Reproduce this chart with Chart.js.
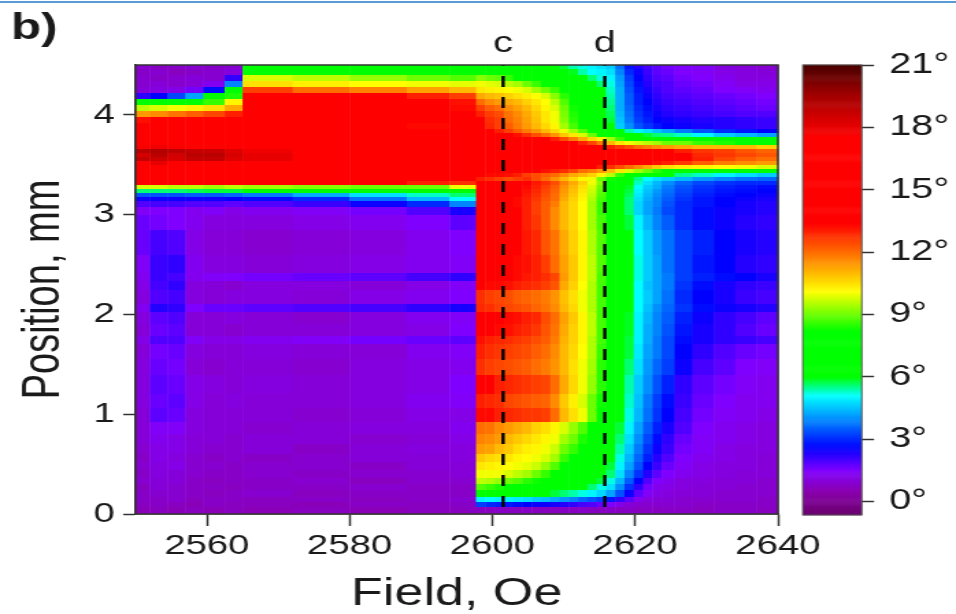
<!DOCTYPE html>
<html>
<head>
<meta charset="utf-8">
<script src="https://cdn.jsdelivr.net/npm/chart.js@4"></script>
<style>
  html, body { margin: 0; padding: 0; background: #fff; overflow: hidden; }
  #topLine { position: absolute; left: 0; top: 1px; width: 956px; height: 2px; background: #5b9bd5; }
  /* the reference is a soft picture stretched sideways, so the whole drawing is too */
  #wrap { position: absolute; left: 0; top: 0; width: 698px; height: 614px; transform: scaleX(1.3696); transform-origin: 0 0; filter: blur(0.45px); }
  #heat { position: absolute; left: 0; top: 0; }
  #bar { position: absolute; left: 576px; top: 0; }
</style>
</head>
<body>
<div id="topLine"></div>
<div id="wrap">
  <canvas id="heat" width="698" height="614"></canvas>
  <canvas id="bar" width="122" height="614"></canvas>
</div>
<script>
const xTicks = [2560, 2580, 2600, 2620, 2640];
const yTicks = [0, 1, 2, 3, 4];
const barTicks = [0, 3, 6, 9, 12, 15, 18, 21];
const cutLabels = ['c', 'd'];
const cutFields = [2601.5, 2615.75];

// column edges, Oe
const fieldEdges = [2550, 2552, 2554.5, 2557, 2559.5, 2562.5, 2565, 2572, 2580, 2588, 2594, 2597.7,
  2599, 2600.3, 2601.6, 2602.9, 2604.2, 2605.5, 2606.8, 2608.1, 2609.4, 2610.7, 2612, 2613.3, 2614.6,
  2615.9, 2617.2, 2618.5, 2619.8, 2621.1, 2622.4, 2623.7, 2625.5, 2628, 2631, 2634, 2637, 2640];

// row edges, mm
const positionEdges = [0, .07, .12, .17, .24, .3, .36, .44, .52, .6, .7, .8, .92, 1.06, 1.2, 1.39, 1.55, 1.7, 1.78,
  1.9, 2.02, 2.1, 2.25, 2.34, 2.42, 2.6, 2.85, 3, 3.08, 3.14, 3.18, 3.22, 3.26, 3.3, 3.34, 3.38, 3.42, 3.46, 3.5,
  3.54, 3.58, 3.62, 3.66, 3.7, 3.74, 3.78, 3.82, 3.86, 3.92, 3.98, 4.04, 4.1, 4.16, 4.22, 4.28, 4.34, 4.4, 4.46, 4.5];

// angle in degrees, bottom row first
const angleRows = [
  [.6,.7,.6,.7,.6,.7,.6,.7,.6,.7,.7, .7,.7,.8,.7,.7,.8,.7,.7,.7,.8,.7,.8,.7,.7,.8,.7,.8,.7,.8,.7,.8,.8,.7,.8,.8,.7],
  [.7,.8,.7,.6,.8,.7,.7,.6,.8,.7,.8, 3.2,3,2.9,2.8,2.7,2.6,2.5,2.5,2.4,2.3,2.2,2,1.9,1.7,1.5,1.2,1,.9,.9,.9,.9,.9,.8,.8,.8,.8],
  [.8,.8,.9,.7,.8,.8,.7,.8,.7,.8,.9, 5,5.1,5,5,4.9,4.8,4.6,4.5,4.3,4.1,3.9,3.6,3.4,3.2,2.8,2.2,1.8,1.3,1.1,1,1,.9,.9,.9,.9,.8],
  [.8,.9,.9,.8,.7,.8,.9,.7,.8,.8,.8, 7,7,6.8,6.6,6.5,6.4,6.2,6,5.8,5.6,5.4,5.2,5,4.7,4.2,3.4,2.5,1.8,1.4,1.2,1.1,1,1,.9,.9,.9],
  [.7,1,.9,.8,.8,.7,.8,.8,.9,.8,.8, 8.8,8.6,8.4,8,7.8,7.5,7.2,7,6.8,6.5,6.3,6,5.6,5.2,4.8,4,3.1,2.2,1.6,1.3,1.2,1.1,1,1,.9,.9],
  [.9,1,1,.8,.7,.8,.8,.9,.7,.9,.9, 9.6,9.5,9.3,9,8.8,8.5,8.3,8,7.6,7.2,7,6.6,6.2,5.8,5.2,4.4,3.5,2.6,1.9,1.5,1.3,1.1,1.1,1,1,.9],
  [.8,1.1,1,.9,.8,.8,.9,.8,.9,.9,1, 10,10,10,9.8,9.6,9.4,9,8.6,8.2,7.6,7.2,7,6.6,6.2,5.6,4.8,3.9,3.1,2.3,1.8,1.5,1.3,1.2,1.1,1,1],
  [.9,1.1,1.2,.9,.9,.8,.9,.9,.8,1,1, 10.4,10.3,10.2,10.1,10,9.9,9.7,9.3,8.8,8.2,7.6,7.2,7,6.5,5.8,5,4.2,3.4,2.6,2.1,1.7,1.4,1.2,1.1,1.1,1],
  [.8,1.2,1.1,.9,.8,.9,.8,.9,1,1,1.1, 10.8,10.6,10.5,10.4,10.2,10.1,10,9.8,9.4,8.6,8,7.5,7.2,6.8,6,5.2,4.4,3.6,2.9,2.3,1.9,1.5,1.3,1.2,1.1,1],
  [.9,1.2,1.2,1,.9,.9,1,.8,1,1.1,1.1, 11.4,11.3,11,10.8,10.5,10.3,10.2,10,9.7,9,8.6,8,7.4,7,6.2,5.4,4.6,3.8,3.1,2.5,2.1,1.6,1.4,1.2,1.1,1.1],
  [1,1.3,1.2,1,1,.9,1,1,.9,1,1.2, 11.7,11.6,11.4,11,10.8,10.6,10.4,10.2,10,9.4,9,8.4,7.8,7.2,6.4,5.6,4.8,4,3.3,2.7,2.2,1.7,1.4,1.3,1.2,1.1],
  [1,1.4,1.4,1.1,1,1,.9,1,1.1,1.1,1.3, 12,11.9,11.6,11.4,11.2,11,10.7,10.5,10.2,9.8,9.3,8.8,8,7.3,6.6,5.8,5,4.2,3.5,2.9,2.4,1.9,1.5,1.3,1.2,1.1],
  [1,1.8,1.7,1.1,1,1,1,.9,1,1.2,1.2, 13.3,13.3,13,12.9,12.8,12.7,12.7,12.6,12,11,10.5,10,9,8,7,6.1,5.2,4.4,3.7,3.1,2.6,2,1.6,1.4,1.3,1.2],
  [1.1,1.7,1.8,1.2,1,1.1,1,1,1.1,1.3,1.4, 13,12.9,12.8,12.5,12.4,12.3,12.2,12.1,11.6,10.8,10.3,9.8,9,8.3,7.2,6.3,5.3,4.5,3.8,3.2,2.7,2.1,1.7,1.5,1.3,1.3],
  [1.1,1.8,1.7,1.2,1.1,1,1.1,1,1.1,1.2,1.5, 13.4,13.5,13,12.9,12.8,12.7,12.6,12.5,12,11.2,10.6,10,9.3,8.5,7.3,6.5,5.4,4.6,4,3.4,2.9,2.2,1.8,1.6,1.4,1.3],
  [1.1,1.7,1.6,1,.9,1,1,.9,1.1,1.2,1.3, 12.8,12.6,12.5,12.4,12.3,12.2,12,11.8,11.5,11,10.5,10,9.4,8.5,7.4,6.6,5.6,4.8,4.1,3.6,3.2,2.5,2,1.8,1.5,1.4],
  [1,1.6,1.7,1.1,1,1,1.1,1,1,1.3,1.4, 13,12.8,12.7,12.6,12.5,12.4,12.2,12,11.6,11,10.6,10.1,9.5,8.6,7.5,6.7,5.8,4.9,4.2,3.8,3.3,2.6,2.2,1.9,1.7,1.6],
  [1.2,1.9,1.9,1.4,1.2,1.2,1.3,1.4,1.6,1.7,1.8, 13.2,13,12.9,12.8,12.7,12.6,12.4,12.2,11.8,11.1,10.7,10.2,9.5,8.7,7.6,6.8,5.8,5,4.3,3.8,3.3,2.7,2.4,2.2,2.1,2],
  [1,1.7,1.8,1,1,.9,1,1,1.1,1.2,1.5, 13.5,13.4,13.3,13.2,13,12.9,12.7,12.3,11.9,11.2,10.7,10.2,9.6,8.7,7.6,6.8,5.9,5,4.3,3.9,3.4,2.8,2.4,2.2,1.9,1.7],
  [1.1,1.8,1.9,1,1,1.1,1,.9,1.1,1.3,1.4, 13.7,13.6,13.5,13.3,13.2,13,12.9,12.4,12,11.3,10.8,10.2,9.6,8.7,7.6,6.9,5.9,5,4.4,3.9,3.5,2.9,2.5,2.2,2,1.8],
  [1.3,2.3,2.2,1.5,1.7,1.7,1.8,1.9,2,2.2,2.4, 12.9,12.8,12.6,12.5,12.4,12.3,12.1,11.9,11.6,11,10.6,10,9.5,8.7,7.6,6.9,6,5.1,4.5,4,3.6,3.1,2.7,2.5,2.4,2.3],
  [1.1,1.9,2,1.1,1,1.1,1.1,1,1.2,1.3,1.5, 12.8,12.6,12.5,12.4,12.2,12.1,12,11.8,11.5,10.9,10.5,10,9.5,8.7,7.6,6.9,6,5.1,4.6,4.2,3.7,3,2.6,2.4,2.1,2],
  [1.2,2,2.2,1.1,1,.9,1.1,1.1,1,1.2,1.4, 13.4,13.3,13.3,13.2,13,12.9,12.8,12.6,12.3,11.2,10.7,10.1,9.5,8.7,7.6,6.9,6,5.1,4.5,4.2,3.8,3.1,2.7,2.4,2.2,2.1],
  [1.3,2.1,2,1.3,1.4,1.5,1.6,1.7,1.8,2,2.2, 13.6,13.5,13.5,13.4,13.3,13.1,13,12.8,12.5,11.4,10.8,10.2,9.6,8.7,7.6,7,6,5.2,4.6,4.2,3.8,3.2,2.9,2.7,2.6,2.4],
  [1.4,2.1,2.2,1.3,1.1,1.1,1,1.1,1.2,1.3,1.4, 13.8,13.6,13.6,13.4,13.3,13.2,13,12.6,12,11.3,10.8,10.2,9.6,8.8,7.5,7,6,5.2,4.6,4.2,3.7,3.2,2.8,2.6,2.3,2.2],
  [1.7,2,1.9,1.2,1,1,.9,1,1.1,1.3,1.5, 13.8,13.7,13.6,13.5,13.4,13.1,12.9,12.3,11.9,11.2,10.7,10.2,9.5,8.8,7.4,6.9,6,5.1,4.6,4.1,3.7,3.2,2.9,2.6,2.4,2.3],
  [1.7,1.6,1.5,1.3,1.1,1.1,1.1,1.2,1.3,1.5,1.8, 13.8,13.8,13.7,13.6,13.4,13,12.7,12.2,11.6,11,10.6,10.1,9.4,8.7,7.2,6.8,5.8,5,4.4,3.9,3.5,3,2.7,2.5,2.3,2.2],
  [1.4,1.5,1.5,1.3,1.4,1.2,1.3,1.4,1.6,1.9,2.4, 13.8,13.8,13.7,13.6,13.4,13,12.6,12.2,11.6,11,10.6,10.1,9.4,8.6,7.2,6.6,5.6,4.7,4.2,3.8,3.3,3,2.7,2.5,2.4,2.3],
  [1.9,2,2,1.9,1.9,1.8,1.9,2.1,2.5,3,3.9, 13.8,13.8,13.6,13.5,13.3,13,12.6,12.2,11.8,11,10.6,10.1,9.4,8.6,7.3,6.6,5.6,4.7,4.2,3.9,3.4,3,2.8,2.6,2.4,2.3],
  [2.5,2.5,2.5,2.5,2.5,2.6,2.7,3,3.7,4.4,5.1, 13.8,13.8,13.6,13.5,13.3,13,12.7,12.3,12,11.2,10.7,10.2,9.5,8.7,7.4,6.7,5.6,4.8,4.3,3.9,3.5,3.1,2.8,2.6,2.5,2.4],
  [3.4,3.4,3.4,3.5,3.5,3.6,3.8,4.3,4.8,5.3,5.6, 13.8,13.8,13.7,13.5,13.4,13.1,12.8,12.4,12,11.3,10.8,10.3,9.6,8.8,7.5,6.8,5.7,4.9,4.4,4,3.6,3.2,2.9,2.7,2.6,2.5],
  [5.6,5.6,5.6,5.7,5.8,5.8,6,6.2,6.4,7,7.2, 13.8,13.8,13.7,13.6,13.4,13.2,12.9,12.5,12.1,11.4,10.9,10.4,9.7,8.9,7.6,6.9,5.8,5,4.5,4.1,3.7,3.3,3,2.8,2.7,2.6],
  [9.8,9.8,9.6,9.6,9.4,9.6,9.4,9.2,9,9,10, 13.8,13.8,13.7,13.6,13.5,13.3,13,12.6,12.2,11.5,11,10.5,9.8,9,7.8,7,5.9,5.1,4.6,4.3,3.8,3.4,3.1,2.9,2.8,2.7],
  [14,14,14,14,14,14,13.8,13.6,13.4,13,12.8, 13.8,13.8,13.7,13.6,13.5,13.4,13.1,12.8,12.4,11.7,11.2,10.7,10,9.2,7.9,7.2,6,5.3,4.8,4.4,4,3.6,3.3,3.1,3,3],
  [15,15,15,15,15,15,15,14.6,14.4,14,13.6, 13,12.8,12.6,12.4,12.6,12.8,12.4,12,11.5,11,10.6,10.2,10,9,8.3,7.3,6,5.5,5.1,4.8,4.6,4.4,4.1,3.9,3.7,3.6],
  [15.5,15.5,15.5,15.5,15.5,15.5,15.5,15.5,15.5,15,14.5, 13.4,13.3,13.3,13.2,13,12.6,12.4,12.2,12,11.6,11.2,11,10.7,10.2,9.6,8.6,7.4,7,6.8,6.4,6,5.5,5.3,5,4.8,4.6],
  [16,16,16,16,16,16,15.5,15,15,15,15, 13.5,13.5,13.5,13.5,13.5,13.5,13.4,13.2,13,12.8,12.5,12,11.8,11.4,11,10.4,9.8,9.4,9,8.5,8,7.5,7.2,7,7,7],
  [17,17,17,16.5,16.5,16.5,16,15.5,15,15,15, 14,14,14,14,14,14,14,14,14,14,13.6,13.5,13.4,13,12.8,12.4,12,11.6,11.2,10.8,10.5,10.3,10.2,10.1,10,9.8],
  [17.5,18,17.5,17.5,17,17,16.5,16,15.5,15,15, 15,15,15,15,15,15,15,15,15,15,15,15,15,15,15,14,13.8,13.5,13.4,13.2,13,12.7,12.2,11.8,11.6,11.4],
  [18.8,18.6,18.4,18.8,18.8,18.2,18,17.2,16,15.5,15, 15,15,15,15,15,15,15,15,15,15,15,15,15,15,15,15,14.5,14.5,14,14,13.8,13.5,13,12.5,12.2,12],
  [18.4,19,18.5,19,19,18.4,18,17.4,16.5,16,15.5, 15,15,15,15,15,15,15,15,15,15,15,15,15,15,15,15,14.5,14.5,14.2,14,14,13.4,12.9,12.7,12.5,12.3],
  [19,19.2,19,18.8,18.7,18.2,17.8,17.2,16.5,16,15.5, 15,15,15,15,15,15,15,15,15,15,15,15,15,15,15,14.5,14,14,13.8,13.6,13.4,13,12.7,12.6,12.3,12.1],
  [17.6,17.8,17.6,17.5,17.4,17,16.8,16.4,16,15.5,15, 15,15,15,15,15,15,15,14.5,14.5,14.5,14,14,14,13.6,13,12.7,12.4,12,11.8,11.6,11.4,11.2,11,11,11,10.7],
  [16.5,16.5,16.5,16.5,16.2,16,16,15.8,15.5,15,15, 14.5,14.5,14.5,14.5,14.5,14.5,14.5,14.5,14.5,14.5,13.5,13,12.5,11.8,11,10.4,10,9.8,9.6,9.4,9,9,8.6,8.4,8.2,8],
  [16,16,16,15.8,15.8,15.5,15.5,15,15,15,15, 14,14,14,14,14,14,13.6,13.4,13,12.4,11.8,11.2,10.6,10.2,9.4,8.6,8,7.6,7.2,7,7,6.6,6.3,6,6,6],
  [15,15,15,15,15,15,15,15,15,14.5,14.5, 14,14,13.8,13.5,13.2,12.8,12.4,12,11.5,10.8,10.4,9.8,9,8,7,6.6,6.2,6,5.8,5.6,5.5,5.3,5,4.6,4.4,4.2],
  [15,15,15,15,15,15,15,15,15,14.5,14, 13.8,13.5,13,12.6,12.2,11.8,11.5,11,10.6,10,9.4,8.8,7.8,7.2,6.4,6,5.4,5,4.8,4.5,4.2,3.8,3.4,3,2.8,2.6],
  [14.5,14.5,14.5,14.5,14.5,14.5,14.5,14.5,14,13.3,13.6, 13.4,12.9,12.6,12.2,11.8,11.4,11,10.6,10.2,9.4,8.7,8,7.2,7,6,4.6,4,3.4,3.1,2.8,2.6,2.5,2.4,2.3,2.2,2.1],
  [13.2,13.4,13.5,13.6,13.8,14,14,14,13.5,13.5,13.8, 13.4,12.8,12.6,12,11.7,11.3,10.9,10.4,10,9.2,8.5,7.8,7,7,5.8,4.5,3.8,3.2,2.9,2.6,2.5,2.4,2.3,2.3,2.2,2.1],
  [11.4,11.6,11.9,12.2,12.5,13,14.5,14.5,14,13.6,13.4, 13,12.6,12.4,11.9,11.6,11.2,10.8,10.4,10,9.1,8.4,7.8,7,6.9,5.7,4.4,3.7,3.1,2.8,2.5,2.3,2.2,2.1,2,1.9,1.9],
  [9.6,9.8,10,10.3,10.5,11.2,14.5,14.5,14,13.6,13.3, 12.6,12.2,12,11.6,11.3,11,10.6,10.2,9.8,9,8.3,7.6,7,6.8,5.6,4.3,3.6,3,2.7,2.4,2.2,2.1,2,1.9,1.8,1.7],
  [6.4,7,7.2,7.6,8.6,10.2,15,14.5,14,13.6,13.2, 12,11.6,11.4,11.2,11,10.7,10.4,10.1,9.6,8.8,8.2,7.5,7,6.7,5.5,4.3,3.5,2.9,2.6,2.3,2.1,2,1.9,1.8,1.7,1.6],
  [2.2,2.6,3.3,4.2,6.2,8.4,14,13.8,13.5,13,12.6, 11.2,11,10.9,10.7,10.5,10.3,10.1,9.8,9.2,8.5,8,7.3,6.9,6.4,5.4,4.3,3.5,2.9,2.5,2.2,2,1.9,1.8,1.7,1.6,1.5],
  [1,1.1,1.2,1.6,2.7,6.2,12.6,12,11.7,11.3,11, 10.4,10.3,10.2,10.1,10,9.8,9.4,9,8.6,8,7.5,7,6.7,6,5.3,4.3,3.4,2.8,2.4,2.1,1.9,1.8,1.7,1.5,1.4,1.3],
  [.9,1,.9,1,1.3,3.9,10.5,10.3,10.1,10,9.9, 10,9.9,9.8,9.6,9.4,9,8.6,8.2,7.8,7.3,7,6.6,6.1,5.6,5.2,4.2,3.3,2.7,2.3,2,1.9,1.7,1.6,1.4,1.2,1.2],
  [.9,.8,.9,1,.9,2.2,9.8,9.6,9.3,9,8.8, 9.2,9,8.9,8.6,8.2,8,7.8,7.4,7.1,7,6.6,6.2,5.6,5.2,5,4.1,3.2,2.6,2.2,1.9,1.8,1.6,1.5,1.3,1.1,1.1],
  [.8,.9,.7,.8,.9,1.1,8.2,8,7.6,7.2,7, 7.6,7.6,7.5,7.4,7.2,7.2,7.1,7,6.9,6.4,5.9,5.4,5.1,5,4.8,3.9,3,2.5,2.1,1.8,1.7,1.5,1.4,1.2,1.1,1],
  [.9,.7,.8,.9,.8,.9,7.4,7,6.8,6.6,6.5, 7,7,7,7,7,7,6.9,6.6,6.3,5.8,5.4,5.2,5,4.8,4.6,3.7,2.8,2.3,2,1.8,1.6,1.5,1.4,1.1,1,.9]
];

// colour scale of the angle bar
const colorStops = [
  [-0.65, [106, 0, 106]], [0.5, [138, 0, 176]], [1.5, [128, 0, 255]], [2.6, [0, 0, 255]], [5.1, [0, 255, 255]],
  [6, [0, 255, 0]], [8.2, [0, 255, 0]], [10.1, [255, 255, 0]], [13.4, [255, 0, 0]], [17.5, [255, 0, 0]],
  [19.6, [160, 0, 0]], [21, [74, 0, 0]]
];

function angleColor(v) {
  for (let i = 1; i < colorStops.length; i++) {
    if (v <= colorStops[i][0]) {
      const [a, ca] = colorStops[i - 1];
      const [b, cb] = colorStops[i];
      const t = Math.max(0, (v - a) / (b - a));
      return `rgb(${ca.map((c, k) => Math.round(c + (cb[k] - c) * t)).join(',')})`;
    }
  }
  return 'rgb(74,0,0)';
}

const FONT = '"Liberation Sans", Arial, sans-serif';
const INK = '#1a1a1a';
const AXIS = '#333';

// draws the cells through the chart's own scales
const heatPlugin = {
  id: 'heat',
  beforeDatasetsDraw(chart) {
    const { ctx, scales: { x, y } } = chart;
    angleRows.forEach((row, r) => {
      const top = Math.round(y.getPixelForValue(positionEdges[r + 1]));
      const bottom = Math.round(y.getPixelForValue(positionEdges[r]));
      row.forEach((v, c) => {
        const left = x.getPixelForValue(fieldEdges[c]);
        const right = x.getPixelForValue(fieldEdges[c + 1]);
        ctx.fillStyle = angleColor(v);
        ctx.fillRect(left, top, right - left + 0.5, bottom - top);
      });
    });
  }
};

const framePlugin = {
  id: 'frame',
  afterDraw(chart) {
    const { ctx, chartArea: a, scales: { x } } = chart;
    ctx.save();
    ctx.strokeStyle = AXIS;
    ctx.lineWidth = 1.5;
    ctx.strokeRect(a.left, a.top, a.right - a.left, a.bottom - a.top);
    ctx.fillStyle = INK;
    ctx.textAlign = 'center';
    ctx.textBaseline = 'alphabetic';
    ctx.font = '29px ' + FONT;
    cutLabels.forEach((t, i) => ctx.fillText(t, x.getPixelForValue(cutFields[i]), 52));
    ctx.textAlign = 'left';
    ctx.font = 'bold 36px ' + FONT;
    ctx.fillText('b)', 8, 39);
    ctx.restore();
  }
};

new Chart(document.getElementById('heat'), {
  type: 'scatter',
  data: {
    datasets: cutFields.map((f, i) => ({
      label: cutLabels[i],
      data: [{ x: f, y: 0.07 }, { x: f, y: 4.5 }],
      showLine: true,
      pointRadius: 0,
      borderColor: '#000',
      borderWidth: 2.4,
      borderDash: [11, 10]
    }))
  },
  options: {
    responsive: false,
    animation: false,
    layout: { padding: { left: 0, top: 65, right: 130, bottom: 0 } },
    plugins: { legend: { display: false }, tooltip: { enabled: false } },
    scales: {
      x: {
        type: 'linear',
        min: 2550,
        max: 2640,
        afterBuildTicks: s => { s.ticks = xTicks.map(v => ({ value: v })); },
        afterFit: s => { s.height = 100; },
        ticks: { color: INK, font: { family: FONT, size: 28 }, padding: 3, maxRotation: 0, autoSkip: false, callback: v => String(v) },
        grid: { drawOnChartArea: false, tickLength: 12, tickColor: AXIS, tickWidth: 1.5 },
        border: { color: AXIS, width: 1.5 },
        title: { display: true, text: 'Field, Oe', color: INK, font: { family: FONT, size: 38, lineHeight: 1 }, padding: { top: 0, bottom: 0 } }
      },
      y: {
        min: 0,
        max: 4.5,
        afterBuildTicks: s => { s.ticks = yTicks.map(v => ({ value: v })); },
        afterFit: s => { s.width = 98.9; },
        ticks: { color: INK, font: { family: FONT, size: 28 }, padding: 6, autoSkip: false, callback: v => String(v) },
        grid: { drawOnChartArea: false, tickLength: 9, tickColor: AXIS, tickWidth: 1.5 },
        border: { color: AXIS, width: 1.5 },
        title: { display: true, text: 'Position, mm', color: INK, font: { family: FONT, size: 38, lineHeight: 1 }, padding: { top: 14, bottom: 0 } }
      }
    }
  },
  plugins: [heatPlugin, framePlugin]
});

// angle bar on the right
const barPlugin = {
  id: 'barCells',
  beforeDatasetsDraw(chart) {
    const { ctx, chartArea: a, scales: { y } } = chart;
    for (let v = -0.65; v < 21; v += 0.05) {
      const top = y.getPixelForValue(v + 0.05);
      const bottom = y.getPixelForValue(v);
      ctx.fillStyle = angleColor(v + 0.025);
      ctx.fillRect(a.left, top - 0.3, a.right - a.left, bottom - top + 0.6);
    }
    ctx.strokeStyle = '#555';
    ctx.lineWidth = 1;
    ctx.strokeRect(a.left, a.top, a.right - a.left, a.bottom - a.top);
  }
};

new Chart(document.getElementById('bar'), {
  type: 'scatter',
  data: { datasets: [{ data: [] }] },
  options: {
    responsive: false,
    animation: false,
    layout: { padding: { left: 10.1, top: 65, right: 0, bottom: 99 } },
    plugins: { legend: { display: false }, tooltip: { enabled: false } },
    scales: {
      x: { display: false, min: 0, max: 1 },
      y: {
        position: 'right',
        min: -0.65,
        max: 21,
        afterBuildTicks: s => { s.ticks = barTicks.map(v => ({ value: v })); },
        afterFit: s => { s.width = 68.8; },
        ticks: { color: INK, font: { family: FONT, size: 29 }, padding: 11, autoSkip: false, callback: v => v + '°' },
        grid: { drawOnChartArea: false, tickLength: 9, tickColor: AXIS, tickWidth: 1.5 },
        border: { display: false }
      }
    }
  },
  plugins: [barPlugin]
});
</script>
</body>
</html>
